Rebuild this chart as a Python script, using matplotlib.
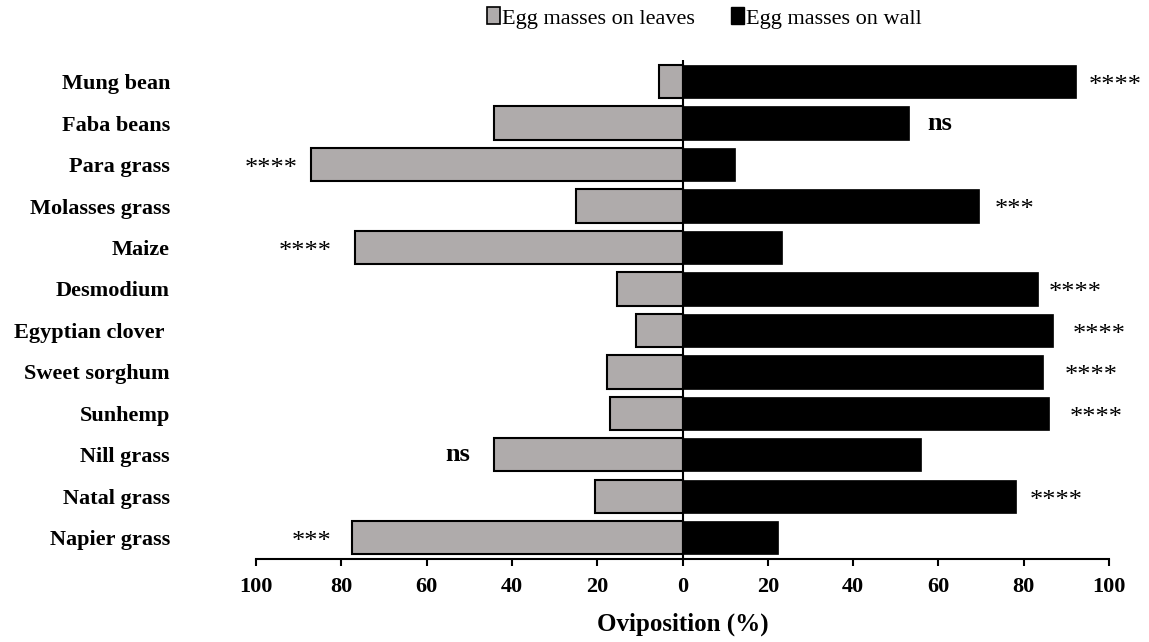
import matplotlib
matplotlib.use("Agg")
from matplotlib import pyplot as plt
from matplotlib.patches import Patch

plt.rcParams['font.family'] = ['Liberation Serif', 'DejaVu Serif']

# data, listed top to bottom as in the figure
plants = ["Mung bean", "Faba beans", "Para grass", "Molasses grass", "Maize",
          "Desmodium", "Egyptian clover ", "Sweet sorghum", "Sunhemp",
          "Nill grass", "Natal grass", "Napier grass"]
on_leaves = [5.6, 44.1, 87.0, 24.9, 76.7, 15.3, 10.9, 17.7, 17.1, 44.1, 20.4, 77.6]
on_wall = [92.2, 53.2, 12.3, 69.4, 23.3, 83.4, 86.8, 84.5, 86.0, 56.0, 78.2, 22.3]
signif = ["****", "ns", "****", "***", "****", "****", "****", "****", "****",
          "ns", "****", "***"]
signif_x = [101.5, 60.3, -96.4, 77.8, -88.4, 92.1, 97.8, 95.9, 97.1, -52.8, 87.7, -87.0]
ticks = [-100, -80, -60, -40, -20, 0, 20, 40, 60, 80, 100]
tick_labels = ["100", "80", "60", "40", "20", "0", "20", "40", "60", "80", "100"]

leaf_color = "#AFABAB"

fig = plt.figure(figsize=(11.49, 6.42), dpi=100)
ax = fig.add_axes([0.2228, 0.1293, 0.7424, 0.7772])

y = list(range(len(plants)))
ax.barh(y, [-v for v in on_leaves], height=0.8, color=leaf_color,
        edgecolor="black", linewidth=1.5, zorder=2)
ax.barh(y, on_wall, height=0.8, color="black", edgecolor="black",
        linewidth=0.5, zorder=2)
ax.axvline(0, color="black", linewidth=1.5, zorder=3)

# significance marks
for yi, s, sx in zip(y, signif, signif_x):
    if s == "ns":
        ax.text(sx, yi, s, ha="center", va="center", fontsize=19,
                fontweight="bold")
    else:
        ax.text(sx, yi + 0.1, s, ha="center", va="center", fontsize=19)

ax.set_ylim(len(plants) - 0.49, -0.52)
ax.set_xlim(-100, 100)
ax.set_yticks(y)
ax.set_yticklabels(plants, fontsize=16, fontweight="bold")
ax.tick_params(axis="y", length=0, pad=62)
ax.set_xticks(ticks)
ax.set_xticklabels(tick_labels, fontsize=16, fontweight="bold")
ax.tick_params(axis="x", direction="out", length=5, width=1.5, pad=8)

for side in ["left", "right", "top"]:
    ax.spines[side].set_visible(False)
ax.spines["bottom"].set_linewidth(1.5)

ax.set_xlabel("Oviposition (%)", fontsize=18, fontweight="bold", labelpad=11)

handles = [Patch(facecolor=leaf_color, edgecolor="black", linewidth=1.2),
           Patch(facecolor="black", edgecolor="black")]
fig.legend(handles, ["Egg masses on leaves", "Egg masses on wall"],
           loc="center", bbox_to_anchor=(0.613, 0.972), ncol=2, frameon=False,
           fontsize=16, handlelength=0.6, handleheight=0.8,
           handletextpad=0.1, columnspacing=1.6)

fig.savefig("out.png", dpi=100)
